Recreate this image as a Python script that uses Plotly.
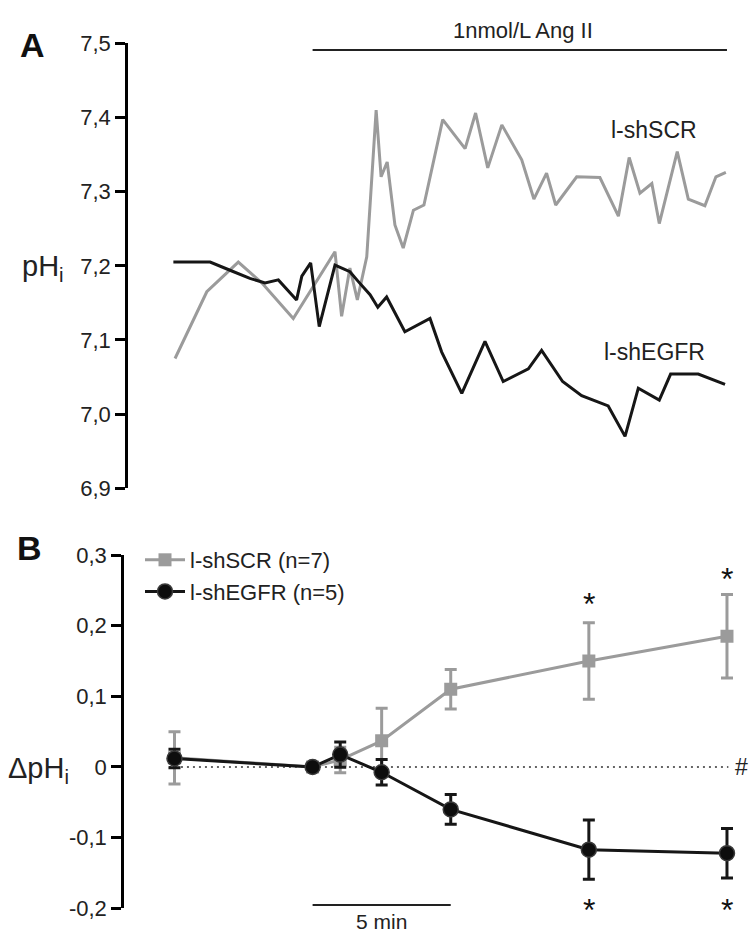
import plotly.graph_objects as go

# ---------------- Panel A data (time in min, pHi) ----------------
time_egfr_a = [-5.04, -3.71, -2.99, -2.27, -1.72, -1.24, -0.58, -0.39, -0.07, 0.24,
               0.81, 1.35, 1.65, 2.08, 2.36, 2.68, 3.34, 4.25, 4.67, 5.40,
               6.24, 6.90, 7.81, 8.29, 9.05, 9.74, 10.70, 11.31, 11.79, 12.55,
               12.96, 13.96, 14.93]
ph_egfr_a = [7.205, 7.205, 7.194, 7.183, 7.177, 7.181, 7.154, 7.186, 7.204, 7.118,
             7.201, 7.192, 7.179, 7.161, 7.144, 7.158, 7.111, 7.129, 7.084, 7.028,
             7.098, 7.044, 7.061, 7.086, 7.044, 7.025, 7.011, 6.970, 7.035, 7.019,
             7.054, 7.054, 7.040]

time_scr_a = [-4.98, -3.83, -2.69, -1.84, -0.70, 0.81, 1.05, 1.35, 1.62, 1.96,
              2.30, 2.48, 2.70, 2.98, 3.28, 3.65, 4.03, 4.71, 5.52, 5.90,
              6.34, 6.85, 7.57, 8.01, 8.47, 8.80, 9.56, 10.40, 11.07, 11.46,
              11.85, 12.28, 12.55, 13.20, 13.60, 14.20, 14.60, 14.96]
ph_scr_a = [7.075, 7.165, 7.205, 7.177, 7.129, 7.219, 7.132, 7.197, 7.154, 7.212,
            7.410, 7.320, 7.340, 7.255, 7.224, 7.275, 7.282, 7.397, 7.358, 7.406,
            7.332, 7.390, 7.343, 7.290, 7.325, 7.282, 7.320, 7.319, 7.267, 7.346,
            7.298, 7.311, 7.257, 7.354, 7.290, 7.281, 7.320, 7.326]

a_tickvals = [6.9, 7.0, 7.1, 7.2, 7.3, 7.4, 7.5]
a_ticktext = ["6,9", "7,0", "7,1", "7,2", "7,3", "7,4", "7,5"]

# ---------------- Panel B data (time in min, delta pHi) ----------------
time_b = [-5, 0, 1, 2.5, 5, 10, 15]
scr_mean = [0.013, 0.0, 0.010, 0.037, 0.110, 0.150, 0.185]
scr_err = [0.037, 0.0, 0.018, 0.046, 0.028, 0.054, 0.059]
egfr_mean = [0.012, 0.0, 0.0175, -0.0075, -0.060, -0.117, -0.122]
egfr_err = [0.013, 0.0, 0.018, 0.018, 0.021, 0.042, 0.035]

b_tickvals = [-0.2, -0.1, 0.0, 0.1, 0.2, 0.3]
b_ticktext = ["-0,2", "-0,1", "0", "0,1", "0,2", "0,3"]

# star annotations (time, y)
star_pos = [(10, 0.241), (15, 0.276), (10, -0.1925), (15, -0.1925)]

angii_start, angii_end = 0, 15
scale_start, scale_end = 0, 5

GRAY = "#9b9b9b"
BLACK = "#161616"
FONT = "Liberation Sans, Arial, Helvetica, sans-serif"

W, H = 750, 933
# pixel mapping of time: x_px = X0 + PX_PER_MIN * t
X0, PX_PER_MIN = 312.6, 27.625


def xrange_for(left_px, right_px):
    return [(left_px - X0) / PX_PER_MIN, (right_px - X0) / PX_PER_MIN]


fig = go.Figure()

# Panel A traces
fig.add_trace(go.Scatter(x=time_scr_a, y=ph_scr_a, mode="lines",
                         line=dict(color=GRAY, width=3), showlegend=False,
                         xaxis="x", yaxis="y"))
fig.add_trace(go.Scatter(x=time_egfr_a, y=ph_egfr_a, mode="lines",
                         line=dict(color=BLACK, width=3), showlegend=False,
                         xaxis="x", yaxis="y"))

# Panel B zero dotted line
fig.add_trace(go.Scatter(x=[time_b[0] - 0.2, time_b[-1] + 0.05], y=[0, 0], mode="lines",
                         line=dict(color="#333333", width=1.5, dash="2px,4px"),
                         showlegend=False, hoverinfo="skip", xaxis="x2", yaxis="y2"))

# Panel B traces
fig.add_trace(go.Scatter(x=time_b, y=scr_mean, mode="lines+markers",
                         name="l-shSCR (n=7)",
                         line=dict(color=GRAY, width=3),
                         marker=dict(symbol="square", size=13, color=GRAY),
                         error_y=dict(type="data", array=scr_err, color=GRAY,
                                      thickness=3, width=6),
                         xaxis="x2", yaxis="y2"))
fig.add_trace(go.Scatter(x=time_b, y=egfr_mean, mode="lines+markers",
                         name="l-shEGFR (n=5)",
                         line=dict(color=BLACK, width=3),
                         marker=dict(symbol="circle", size=15, color="#0d0d0d",
                                     line=dict(color="#3a3a3a", width=1.5)),
                         error_y=dict(type="data", array=egfr_err, color=BLACK,
                                      thickness=3, width=6),
                         xaxis="x2", yaxis="y2"))

a_dom = [1 - 488.3 / H, 1 - 43.3 / H]
b_dom = [1 - 908.3 / H, 1 - 555.0 / H]

axis_common = dict(showline=True, linecolor="black", linewidth=2.5,
                   ticks="outside", ticklen=10, tickwidth=2.5, tickcolor="black",
                   showgrid=False, zeroline=False, automargin=False,
                   tickfont=dict(family=FONT, size=22, color="#222222"))

fig.update_layout(
    width=W, height=H,
    margin=dict(l=0, r=0, t=0, b=0, pad=0, autoexpand=False),
    paper_bgcolor="white", plot_bgcolor="white",
    font=dict(family=FONT, color="#222222"),
    xaxis=dict(domain=[128 / W, 1.0], range=xrange_for(128, W), visible=False,
               anchor="y", automargin=False),
    yaxis=dict(domain=a_dom, range=[6.9, 7.5], tickvals=a_tickvals,
               ticktext=a_ticktext, anchor="x", **axis_common),
    xaxis2=dict(domain=[124 / W, 1.0], range=xrange_for(124, W), visible=False,
                anchor="y2", automargin=False),
    yaxis2=dict(domain=b_dom, range=[-0.2, 0.3], tickvals=b_tickvals,
                ticktext=b_ticktext, anchor="x2", **axis_common),
    legend=dict(x=140 / W, y=1 - 539 / H, xanchor="left", yanchor="top",
                font=dict(family=FONT, size=22, color="#222222"),
                bgcolor="rgba(0,0,0,0)", itemwidth=40, tracegroupgap=0,
                traceorder="normal"),
    showlegend=True,
)

shapes = [
    # Ang II bar
    dict(type="line", xref="x", yref="paper", x0=angii_start, x1=angii_end,
         y0=1 - 50 / H, y1=1 - 50 / H, line=dict(color="#222222", width=2)),
    # 5 min scale bar
    dict(type="line", xref="x2", yref="paper", x0=scale_start, x1=scale_end,
         y0=1 - 905 / H, y1=1 - 905 / H, line=dict(color="#222222", width=2)),
]
fig.update_layout(shapes=shapes)

ann = []
ann.append(dict(text="<b>A</b>", xref="paper", yref="paper", x=18 / W, y=1 - 45 / H,
                xanchor="left", yanchor="middle", showarrow=False,
                font=dict(size=34, family=FONT, color="#111111")))
ann.append(dict(text="<b>B</b>", xref="paper", yref="paper", x=15 / W, y=1 - 548 / H,
                xanchor="left", yanchor="middle", showarrow=False,
                font=dict(size=34, family=FONT, color="#111111")))
ann.append(dict(text="pH<sub>i</sub>", xref="paper", yref="paper", x=20 / W, y=1 - 268 / H,
                xanchor="left", yanchor="middle", showarrow=False,
                font=dict(size=29, family=FONT, color="#222222")))
ann.append(dict(text="ΔpH<sub>i</sub>", xref="paper", yref="paper", x=6 / W, y=1 - 770 / H,
                xanchor="left", yanchor="middle", showarrow=False,
                font=dict(size=29, family=FONT, color="#222222")))
ann.append(dict(text="1nmol/L Ang II", xref="x", yref="paper",
                x=(angii_start + angii_end) / 2 + 0.1, y=1 - 30 / H,
                xanchor="center", yanchor="middle", showarrow=False,
                font=dict(size=22, family=FONT, color="#222222")))
ann.append(dict(text="l-shSCR", xref="x", yref="y", x=12.36, y=7.383,
                xanchor="center", yanchor="middle", showarrow=False,
                font=dict(size=23, family=FONT, color="#222222")))
ann.append(dict(text="l-shEGFR", xref="x", yref="y", x=12.36, y=7.084,
                xanchor="center", yanchor="middle", showarrow=False,
                font=dict(size=23, family=FONT, color="#222222")))
ann.append(dict(text="5 min", xref="x2", yref="paper", x=(scale_start + scale_end) / 2,
                y=1 - 921 / H, xanchor="center", yanchor="middle", showarrow=False,
                font=dict(size=21, family=FONT, color="#222222")))
ann.append(dict(text="#", xref="paper", yref="y2", x=1.0, y=0.0,
                xanchor="right", yanchor="middle", showarrow=False,
                font=dict(size=23, family=FONT, color="#222222")))
for (tx, ty) in star_pos:
    ann.append(dict(text="*", xref="x2", yref="y2", x=tx, y=ty,
                    xanchor="center", yanchor="middle", showarrow=False, yshift=-7,
                    font=dict(size=32, family=FONT, color="#111111")))
fig.update_layout(annotations=ann)

fig.write_html("out.html",
               config={"displayModeBar": False},
               post_script="document.body.style.margin='0';document.body.style.overflow='hidden';")
